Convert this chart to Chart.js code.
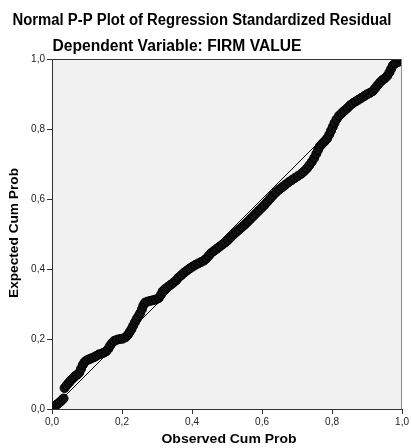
<!DOCTYPE html>
<html>
<head>
<meta charset="utf-8">
<title>Normal P-P Plot</title>
<script src="https://cdn.jsdelivr.net/npm/chart.js@4.4.1/dist/chart.umd.min.js"></script>
<style>
    body { margin: 0; background: #fff; }
    canvas { display: block; }
</style>
</head>
<body>
<canvas id="ppChart" width="411" height="448"></canvas>
<script>
const titleText = 'Normal P-P Plot of Regression Standardized Residual';
const subtitleText = 'Dependent Variable: FIRM VALUE';
const xAxisTitle = 'Observed Cum Prob';
const yAxisTitle = 'Expected Cum Prob';

const tickValues = [0, 0.2, 0.4, 0.6, 0.8, 1.0];
const tickLabels = ['0,0', '0,2', '0,4', '0,6', '0,8', '1,0'];

// observed cum prob (x) and expected cum prob (y)
const observedCumProb = [
    0.003, 0.008, 0.013, 0.018, 0.023, 0.028, 0.033, 0.036, 0.042, 0.048,
    0.054, 0.060, 0.066, 0.072, 0.078, 0.083, 0.088, 0.093, 0.099, 0.106,
    0.113, 0.120, 0.127, 0.134, 0.141, 0.148, 0.155, 0.161, 0.166, 0.172,
    0.178, 0.186, 0.194, 0.202, 0.210, 0.217, 0.222, 0.227, 0.232, 0.237,
    0.242, 0.247, 0.252, 0.257, 0.261, 0.266, 0.273, 0.281, 0.289, 0.297,
    0.305, 0.311, 0.316, 0.323, 0.331, 0.339, 0.347, 0.355, 0.362, 0.370,
    0.378, 0.386, 0.394, 0.402, 0.410, 0.418, 0.426, 0.434, 0.441, 0.448,
    0.455, 0.463, 0.471, 0.479, 0.487, 0.495, 0.503, 0.511, 0.519, 0.527,
    0.535, 0.543, 0.551, 0.559, 0.567, 0.575, 0.583, 0.591, 0.599, 0.607,
    0.615, 0.623, 0.631, 0.640, 0.649, 0.658, 0.667, 0.676, 0.685, 0.694,
    0.703, 0.712, 0.720, 0.728, 0.735, 0.742, 0.749, 0.755, 0.760, 0.765,
    0.772, 0.779, 0.786, 0.792, 0.797, 0.802, 0.807, 0.813, 0.820, 0.828,
    0.836, 0.844, 0.852, 0.860, 0.868, 0.876, 0.884, 0.892, 0.900, 0.908,
    0.916, 0.923, 0.930, 0.937, 0.944, 0.951, 0.958, 0.964, 0.969, 0.974,
    0.981, 0.988, 0.995, 1.000
];
const expectedCumProb = [
    0.004, 0.008, 0.012, 0.016, 0.020, 0.025, 0.030, 0.060, 0.068, 0.075,
    0.082, 0.088, 0.094, 0.098, 0.104, 0.115, 0.126, 0.134, 0.139, 0.142,
    0.145, 0.148, 0.152, 0.156, 0.158, 0.161, 0.165, 0.172, 0.181, 0.189,
    0.195, 0.198, 0.200, 0.201, 0.205, 0.212, 0.220, 0.228, 0.238, 0.248,
    0.257, 0.265, 0.274, 0.285, 0.296, 0.304, 0.307, 0.309, 0.311, 0.313,
    0.317, 0.326, 0.336, 0.343, 0.349, 0.355, 0.361, 0.368, 0.376, 0.383,
    0.390, 0.396, 0.402, 0.407, 0.412, 0.416, 0.420, 0.424, 0.430, 0.438,
    0.446, 0.452, 0.458, 0.464, 0.470, 0.476, 0.483, 0.491, 0.499, 0.506,
    0.513, 0.520, 0.527, 0.535, 0.543, 0.551, 0.559, 0.567, 0.575, 0.583,
    0.592, 0.601, 0.610, 0.619, 0.627, 0.634, 0.641, 0.648, 0.654, 0.660,
    0.666, 0.672, 0.679, 0.687, 0.696, 0.706, 0.717, 0.729, 0.740, 0.750,
    0.758, 0.765, 0.773, 0.784, 0.795, 0.806, 0.817, 0.828, 0.838, 0.846,
    0.853, 0.860, 0.868, 0.874, 0.879, 0.884, 0.889, 0.894, 0.899, 0.903,
    0.908, 0.916, 0.925, 0.933, 0.940, 0.945, 0.952, 0.962, 0.972, 0.982,
    0.988, 0.991, 0.995, 0.999
];
const diagonalX = [0, 1];
const diagonalY = [0, 1];

const FONT = '"Liberation Sans", Arial, sans-serif';

// draws text squeezed/stretched to a given width
function fitText(ctx, text, x, y, width, font, angle) {
    ctx.save();
    ctx.font = font;
    const natural = ctx.measureText(text).width;
    ctx.translate(x, y);
    if (angle) ctx.rotate(angle);
    ctx.scale(width / natural, 1);
    ctx.textAlign = 'center';
    ctx.textBaseline = 'alphabetic';
    ctx.fillStyle = '#000';
    ctx.fillText(text, 0, 0);
    ctx.restore();
}

const framePlugin = {
    id: 'frame',
    beforeDraw(chart) {
        const { ctx, chartArea: a } = chart;
        ctx.save();
        ctx.fillStyle = '#f1f1f1';
        ctx.fillRect(a.left, a.top, a.right - a.left, a.bottom - a.top);
        ctx.restore();
    },
    afterDraw(chart) {
        const { ctx, chartArea: a } = chart;
        ctx.save();
        ctx.lineWidth = 1;
        ctx.strokeStyle = '#333';
        ctx.beginPath();
        ctx.moveTo(a.left, a.top + 0.5);
        ctx.lineTo(a.right, a.top + 0.5);
        ctx.stroke();
        ctx.strokeStyle = '#888';
        ctx.beginPath();
        ctx.moveTo(a.right - 0.5, a.top);
        ctx.lineTo(a.right - 0.5, a.bottom);
        ctx.stroke();
        ctx.restore();

        fitText(ctx, titleText, 202, 25, 379, 'bold 16px ' + FONT);
        fitText(ctx, subtitleText, 177, 51, 249, '600 16px ' + FONT);
        fitText(ctx, xAxisTitle, 229, 443, 135, 'bold 13px ' + FONT);
        fitText(ctx, yAxisTitle, 18, 233, 130, 'bold 13px ' + FONT, -Math.PI / 2);
    }
};

const axisCommon = {
    type: 'linear',
    min: 0,
    max: 1,
    afterBuildTicks: (scale) => {
        scale.ticks = tickValues.map(v => ({ value: v }));
    },
    ticks: {
        color: '#222',
        font: { family: FONT, size: 10 },
        padding: 2,
        callback: (value) => {
            const i = tickValues.findIndex(v => Math.abs(v - value) < 1e-6);
            return i === -1 ? '' : tickLabels[i];
        }
    },
    grid: {
        drawOnChartArea: false,
        drawTicks: true,
        tickLength: 5,
        color: '#333'
    },
    border: { display: true, color: '#333', width: 1 }
};

const ctx = document.getElementById('ppChart').getContext('2d');
new Chart(ctx, {
    type: 'scatter',
    data: {
        datasets: [
            {
                label: 'Diagonal',
                type: 'line',
                data: diagonalX.map((x, i) => ({ x: x, y: diagonalY[i] })),
                borderColor: '#000',
                borderWidth: 1,
                pointRadius: 0,
                fill: false,
                order: 1
            },
            {
                label: 'Residuals',
                data: observedCumProb.map((x, i) => ({ x: x, y: expectedCumProb[i] })),
                pointRadius: 4.5,
                pointBorderWidth: 1,
                pointBorderColor: '#000',
                pointBackgroundColor: '#111',
                order: 2
            }
        ]
    },
    options: {
        responsive: false,
        animation: false,
        devicePixelRatio: 1,
        layout: { padding: { top: 59, right: 8, left: 0, bottom: 0 } },
        plugins: {
            legend: { display: false },
            tooltip: { enabled: false },
            title: { display: false }
        },
        scales: {
            x: Object.assign({}, axisCommon, {
                position: 'bottom',
                afterFit: (scale) => { scale.height = 39; }
            }),
            y: Object.assign({}, axisCommon, {
                position: 'left',
                afterFit: (scale) => { scale.width = 52; }
            })
        }
    },
    plugins: [framePlugin]
});
</script>
</body>
</html>
